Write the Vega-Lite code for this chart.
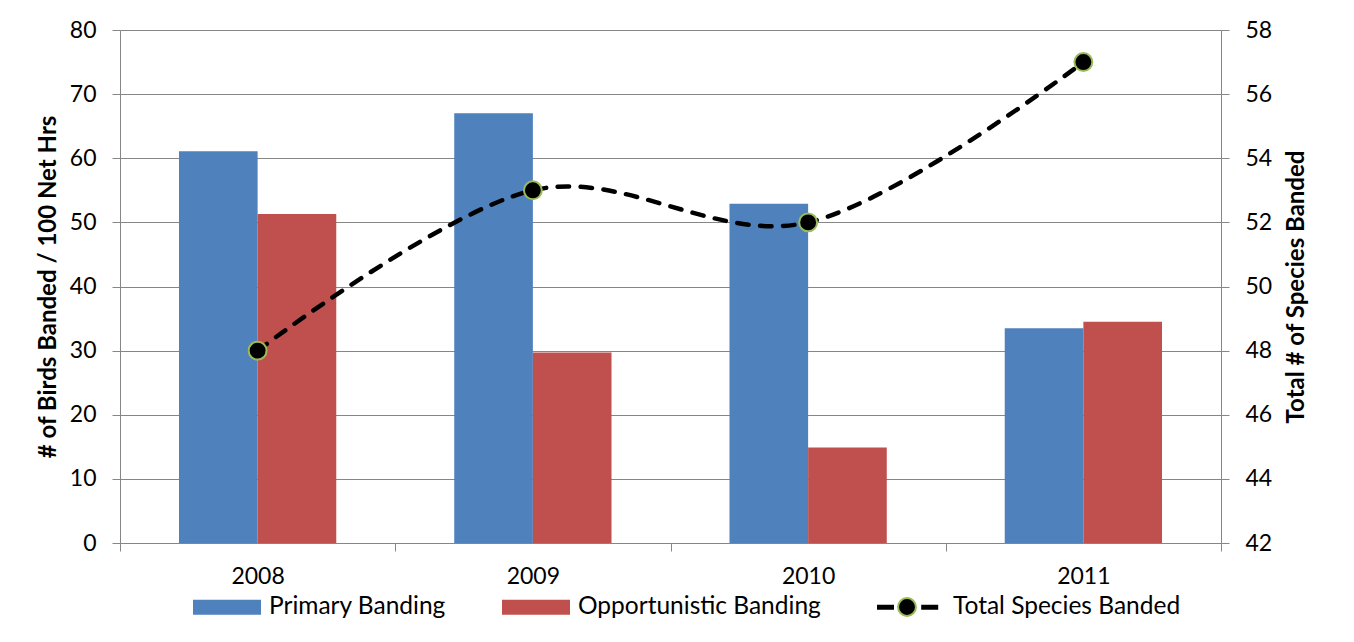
{
  "$schema": "https://vega.github.io/schema/vega-lite/v6.json",
  "width": 1101,
  "height": 513,
  "autosize": {"type": "none"},
  "padding": {"left": 120, "top": 30, "right": 133, "bottom": 99},
  "background": "white",
  "config": {
    "font": "Lato",
    "view": {"stroke": null},
    "axis": {
      "labelFont": "Lato",
      "labelFontSize": 23,
      "labelColor": "black",
      "titleFont": "Lato",
      "titleFontSize": 24,
      "titleFontWeight": "bold",
      "titleColor": "black",
      "domainColor": "#868686",
      "tickColor": "#868686",
      "gridColor": "#868686",
      "tickSize": 8
    }
  },
  "datasets": {
    "bars": [
      {"year": "2008", "series": "Primary Banding", "value": 61.1},
      {"year": "2008", "series": "Opportunistic Banding", "value": 51.3},
      {"year": "2009", "series": "Primary Banding", "value": 67.0},
      {"year": "2009", "series": "Opportunistic Banding", "value": 29.7},
      {"year": "2010", "series": "Primary Banding", "value": 52.9},
      {"year": "2010", "series": "Opportunistic Banding", "value": 14.9},
      {"year": "2011", "series": "Primary Banding", "value": 33.5},
      {"year": "2011", "series": "Opportunistic Banding", "value": 34.5}
    ],
    "totals": [
      {"year": "2008", "series": "Total Species Banded", "species": 48},
      {"year": "2009", "series": "Total Species Banded", "species": 53},
      {"year": "2010", "series": "Total Species Banded", "species": 52},
      {"year": "2011", "series": "Total Species Banded", "species": 57}
    ]
  },
  "layer": [
    {
      "data": {"name": "bars"},
      "mark": {"type": "bar"},
      "encoding": {
        "x": {
          "field": "year",
          "type": "nominal",
          "scale": {"paddingInner": 0, "paddingOuter": 0},
          "axis": {
            "title": null,
            "labelAngle": 0,
            "tickBand": "extent",
            "labelPadding": 14,
            "grid": false
          }
        },
        "xOffset": {
          "field": "series",
          "type": "nominal",
          "sort": ["Primary Banding", "Opportunistic Banding"],
          "scale": {"paddingInner": 0, "paddingOuter": 0.75}
        },
        "y": {
          "field": "value",
          "type": "quantitative",
          "scale": {"domain": [0, 80], "nice": false},
          "axis": {
            "title": "# of Birds Banded / 100 Net Hrs",
            "values": [0, 10, 20, 30, 40, 50, 60, 70, 80],
            "grid": true,
            "labelPadding": 16,
            "titlePadding": 9
          }
        },
        "color": {
          "field": "series",
          "type": "nominal",
          "scale": {
            "domain": ["Primary Banding", "Opportunistic Banding", "Total Species Banded"],
            "range": ["#4F81BD", "#C0504D", "#000000"]
          },
          "legend": {
            "title": null,
            "orient": "none",
            "direction": "horizontal",
            "legendX": 73,
            "legendY": 543,
            "padding": 0,
            "symbolType": "M-1,-0.22H1V0.22H-1Z",
            "symbolSize": 4624,
            "symbolStrokeWidth": 0,
            "symbolOpacity": 1,
            "labelFont": "Lato",
            "labelFontSize": 24.5,
            "labelColor": "black",
            "labelLimit": 400,
            "labelOffset": 8,
            "columnPadding": 56,
            "encode": {
              "symbols": {
                "update": {
                  "shape": {
                    "signal": "datum.value === 'Total Species Banded' ? 'M-1,-0.07H-0.5V0.07H-1Z M0.3,-0.07H0.8V0.07H0.3Z' : 'M-1,-0.22H1V0.22H-1Z'"
                  }
                }
              }
            }
          }
        }
      }
    },
    {
      "data": {"name": "totals"},
      "layer": [
        {
          "mark": {
            "type": "line",
            "interpolate": "cardinal",
            "tension": 0,
            "stroke": "black",
            "strokeWidth": 4.5,
            "strokeDash": [11.5, 11.5],
            "strokeCap": "round"
          },
          "encoding": {
            "x": {"field": "year", "type": "nominal", "scale": {"paddingInner": 0, "paddingOuter": 0}},
            "y": {
              "field": "species",
              "type": "quantitative",
              "scale": {"domain": [42, 58], "nice": false},
              "axis": {
                "orient": "right",
                "title": "Total # of Species Banded",
                "values": [42, 44, 46, 48, 50, 52, 54, 56, 58],
                "grid": false,
                "labelPadding": 16,
                "titleAngle": 270,
                "titleBaseline": "top",
                "titlePadding": 13
              }
            }
          }
        },
        {
          "mark": {"type": "point", "filled": true, "shape": "circle", "size": 320, "fill": "black", "strokeWidth": 2, "opacity": 1},
          "encoding": {
            "x": {"field": "year", "type": "nominal"},
            "y": {"field": "species", "type": "quantitative"},
            "stroke": {
              "field": "series",
              "type": "nominal",
              "scale": {"domain": ["Total Species Banded"], "range": ["#9BBB59"]},
              "legend": {
                "title": null,
                "orient": "none",
                "legendX": 777,
                "legendY": 567,
                "padding": 0,
                "symbolType": "circle",
                "symbolSize": 320,
                "symbolFillColor": "black",
                "symbolStrokeWidth": 2,
                "labelExpr": "''",
                "encode": {"symbols": {"update": {"fill": {"value": "black"}, "opacity": {"value": 1}}}}
              }
            }
          }
        }
      ]
    }
  ],
  "resolve": {"scale": {"y": "independent"}}
}
